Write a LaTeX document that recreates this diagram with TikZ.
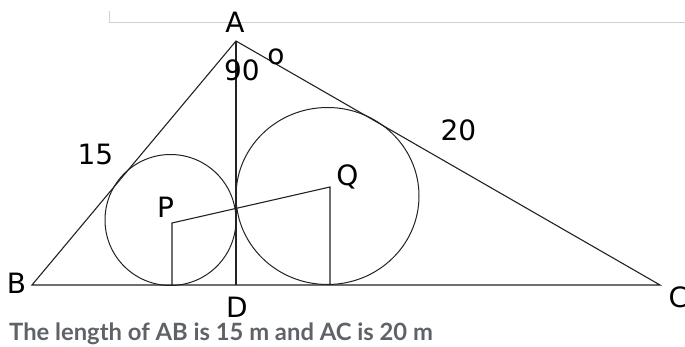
\documentclass[tikz,border=0pt]{standalone}
\usepackage{fontspec}
\setmainfont{DejaVu Sans}
\newfontfamily\captionfont{Lato}
\definecolor{linec}{HTML}{222222}
\definecolor{capc}{HTML}{5F6368}
\definecolor{rulec}{HTML}{D0D0D0}
\begin{document}
\begin{tikzpicture}[x=1pt,y=-1pt,
  edge/.style={draw=linec,line width=1.1pt},
  ring/.style={draw=linec,line width=1pt},
  lbl/.style={inner sep=0pt,anchor=base,font=\fontsize{28}{28}\selectfont,text=black},
  captext/.style={inner sep=0pt,anchor=base west,font=\captionfont\bfseries\fontsize{23.8}{23.8}\selectfont,text=capc}]
\useasboundingbox (0,0) rectangle (685,347);
% top rule
\coordinate (r0) at (109,11);
\coordinate (r1) at (109,22);
\coordinate (r2) at (685,22);
\draw[rulec,line width=0.9pt] (r0) -- (r1) -- (r2);
% vertices
\coordinate (A) at (236,41);
\coordinate (B) at (32,285);
\coordinate (C) at (660,285);
\coordinate (D) at (236,285);
\coordinate (P) at (172,223);
\coordinate (Q) at (330,187);
\coordinate (Pf) at (172,285);
\coordinate (Qf) at (330,285);
\coordinate (O1) at (170.5,220);
\coordinate (O2) at (327.5,196);
% circles
\draw[ring] (O1) circle[radius=65.5];
\draw[ring] (O2) ellipse[x radius=91.5,y radius=88.5];
% triangle
\draw[edge] (A) -- (B) -- (C) -- cycle;
\draw[edge] (A) -- (D);
\draw[edge] (Pf) -- (P) -- (Q) -- (Qf);
% labels
\node[lbl] (lA) at (235,33) {A};
\node[lbl] (l90) at (242,81) {90};
\node[lbl] (ldeg) at (276,65) {o};
\node[lbl] (l15) at (95.5,165) {15};
\node[lbl] (l20) at (458.5,141) {20};
\node[lbl] (lP) at (165.5,218) {P};
\node[lbl] (lQ) at (347.5,186) {Q};
\node[lbl] (lB) at (16.5,293) {B};
\node[lbl] (lC) at (678.5,307) {C};
\node[lbl] (lD) at (237,317) {D};
\node[captext] (caption) at (9,340) {The length of AB is 15 m and AC is 20 m};
\end{tikzpicture}
\end{document}
